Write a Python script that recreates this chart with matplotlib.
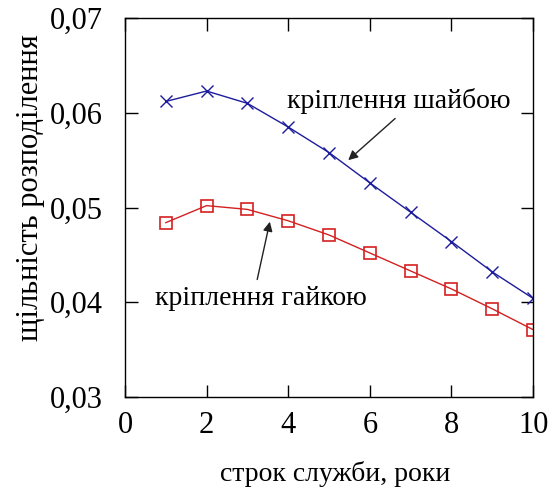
import matplotlib.pyplot as plt

plt.rcParams["font.family"] = "serif"
plt.rcParams["font.serif"] = ["Liberation Serif", "DejaVu Serif"]

years = [1, 2, 3, 4, 5, 6, 7, 8, 9, 10]
density_washer = [0.0612, 0.0623, 0.0610, 0.0585, 0.0558, 0.0526, 0.0495, 0.0464, 0.0432, 0.0404]
density_nut = [0.0484, 0.0502, 0.0498, 0.0486, 0.0471, 0.0452, 0.0433, 0.0414, 0.0393, 0.0371]

x_ticks = [0, 2, 4, 6, 8, 10]
y_ticks = [0.03, 0.04, 0.05, 0.06, 0.07]
y_tick_labels = ["0,03", "0,04", "0,05", "0,06", "0,07"]


def main() -> None:
    fig = plt.figure(figsize=(5.53, 4.9), dpi=100)
    ax = fig.add_axes([0.226, 0.19, 0.738, 0.773])

    ax.plot(years, density_washer, color="#1c1c9c", lw=1.0, marker="x",
            ms=8, mew=1.0)
    ax.plot(years, density_nut, color="#d42020", lw=1.0, marker="s",
            ms=8, mfc="none", mew=1.2)

    ax.set_xlim(0, 10)
    ax.set_ylim(0.03, 0.07)
    ax.set_xticks(x_ticks)
    ax.set_xticklabels([str(t) for t in x_ticks])
    ax.set_yticks(y_ticks)
    ax.set_yticklabels(y_tick_labels)
    ax.tick_params(direction="in", length=9, width=1.0, top=True, right=True,
                   labelsize=22)
    ax.tick_params(axis="x", pad=10)
    ax.tick_params(axis="y", pad=16)
    for s in ax.spines.values():
        s.set_linewidth(1.0)

    # axis titles placed in figure coordinates
    fig.text(335 / 553, 1 - 474 / 490, "строк служби, роки", fontsize=20,
             ha="center", va="center")
    fig.text(31 / 553, 1 - 188 / 490, "щільність розподілення", fontsize=22,
             rotation=90, ha="center", va="center")

    # labels and their pointer arrows
    ax.text(6.72, 0.0613, "кріплення шайбою", fontsize=20, ha="center", va="center")
    ax.text(3.33, 0.0404, "кріплення гайкою", fontsize=20, ha="center", va="center")
    arrow = dict(arrowstyle="-|>", color="#222222", lw=1.0,
                 shrinkA=0, shrinkB=0, mutation_scale=14)
    ax.annotate("", xy=(5.47, 0.0550), xytext=(6.62, 0.0594), arrowprops=arrow)
    ax.annotate("", xy=(3.55, 0.0485), xytext=(3.24, 0.0424), arrowprops=arrow)

    fig.savefig("out.png")
    plt.close(fig)


if __name__ == "__main__":
    main()
